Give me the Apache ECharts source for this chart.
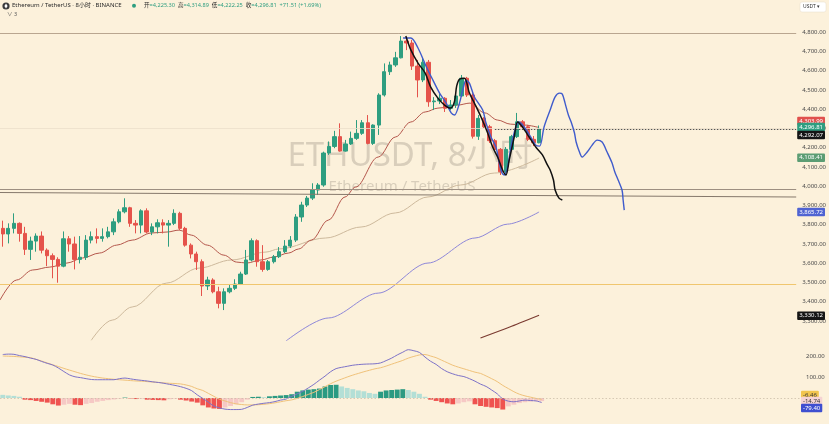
<!DOCTYPE html>
<html><head><meta charset="utf-8">
<script src="https://cdn.jsdelivr.net/npm/echarts@6/dist/echarts.min.js"></script>
<style>html,body{margin:0;padding:0;background:#fcf1db;}#c{width:829px;height:424px;}</style>
</head><body><div id="c"></div>
<script>
// ---------- DATA ----------
const opens  = [3781,3752,3781,3807,3755,3672,3715,3741,3668,3639,3620,3585,3727,3700,3620,3631,3720,3738,3729,3738,3763,3815,3867,3888,3807,3798,3872,3762,3789,3810,3798,3807,3859,3781,3694,3648,3608,3482,3513,3452,3392,3452,3470,3492,3544,3617,3717,3608,3568,3608,3634,3660,3689,3720,3840,3902,3938,3980,4006,4172,4206,4257,4182,4219,4248,4274,4329,4222,4317,4473,4594,4629,4666,4753,4743,4623,4551,4643,4438,4442,4456,4404,4421,4468,4560,4473,4259,4352,4308,4236,4191,4075,4191,4257,4334,4308,4243,4225.30];
const highs  = [3821,3807,3859,3812,3789,3738,3755,3765,3677,3651,3631,3765,3741,3738,3741,3746,3765,3781,3781,3789,3833,3880,3937,3893,3824,3880,3885,3807,3828,3828,3824,3880,3867,3789,3703,3660,3620,3530,3522,3478,3470,3487,3517,3556,3669,3729,3724,3694,3617,3643,3684,3720,3741,3855,3919,3949,4015,4016,4179,4232,4287,4326,4240,4283,4343,4343,4369,4321,4482,4637,4646,4697,4779,4774,4759,4655,4665,4655,4462,4478,4462,4447,4478,4577,4567,4482,4369,4358,4318,4245,4198,4203,4266,4380,4343,4318,4260,4314.89];
const lows   = [3686,3703,3755,3712,3643,3617,3660,3651,3585,3522,3499,3579,3660,3568,3599,3617,3703,3703,3712,3729,3746,3807,3859,3789,3755,3755,3755,3746,3755,3755,3686,3798,3772,3686,3625,3565,3430,3461,3444,3366,3357,3444,3461,3487,3539,3610,3582,3556,3561,3599,3627,3653,3679,3710,3815,3892,3928,3954,3997,4162,4197,4179,4179,4214,4240,4266,4217,4214,4266,4465,4577,4619,4663,4706,4603,4461,4540,4412,4395,4426,4385,4395,4406,4463,4463,4247,4240,4302,4224,4177,4058,4068,4188,4250,4302,4234,4208,4222.25];
const closes = [3752,3781,3807,3755,3672,3715,3741,3668,3639,3620,3585,3727,3700,3620,3631,3720,3738,3729,3738,3763,3815,3867,3888,3807,3798,3872,3762,3789,3810,3798,3807,3859,3781,3694,3648,3608,3482,3513,3452,3392,3452,3470,3492,3544,3617,3717,3608,3568,3608,3634,3660,3689,3720,3840,3902,3938,3980,4006,4172,4206,4257,4182,4219,4248,4274,4329,4222,4317,4473,4594,4629,4666,4753,4743,4623,4551,4643,4438,4442,4456,4404,4421,4468,4560,4473,4259,4352,4308,4236,4191,4075,4191,4257,4334,4308,4243,4225.30,4296.81];

// moving averages: [bar position, price]
const maRed    = [[-0.5,3409],[2.5,3513],[5.4,3565],[8.5,3580],[11.6,3601],[14.4,3627],[17.5,3653],[20.6,3694],[23.4,3720],[26.9,3757],[29.7,3762],[31.9,3772],[34.1,3746],[37,3694],[40,3642],[42.3,3606],[44.1,3601],[46.7,3617],[49,3632],[51.7,3653],[53.5,3674],[55.8,3720],[58.9,3824],[61.9,3944],[63.8,3995],[67.9,4151],[71,4255],[73.8,4333],[76.4,4385],[78.7,4405],[82.3,4421],[84.5,4431],[87.2,4380],[89.5,4343],[91.8,4322],[94.4,4317],[97,4304]];
const maTan    = [[16,3200],[19.8,3305],[23.4,3373],[29.6,3497],[35.5,3575],[41.4,3617],[47.6,3658],[49.9,3674],[58.4,3731],[64.8,3788],[71,3861],[76.9,3944],[82.8,4006],[88.9,4068],[97,4146]];
const maPurple = [[51.2,3196],[58.9,3316],[67.9,3445],[76.9,3601],[85.4,3731],[91.3,3803],[97,3866]];
const maDark   = [[86.4,3212],[91.7,3269],[97,3330]];

// hand-drawn projection paths
const blackPath = [[72.9,4779],[73.8,4707],[75.1,4639],[76.4,4587],[77.4,4514],[78.7,4457],[79.9,4421],[81,4405],[81.7,4440],[82.1,4520],[82.6,4555],[83.5,4560],[84.4,4483],[85.3,4431],[86.5,4359],[87.7,4276],[88.6,4203],[89.5,4151],[90.4,4084],[91,4058],[91.6,4136],[92.5,4255],[93.1,4333],[94,4307],[95.2,4255],[96.4,4203],[97.6,4162],[98.5,4110],[99,4084],[99.6,4032],[99.9,3980],[100.6,3938],[101.2,3928]];
const bluePath  = [[72.4,4769],[73.8,4769],[75.1,4717],[76.6,4620],[77.8,4550],[79,4483],[80.2,4431],[81.1,4380],[81.7,4369],[82.6,4431],[83.2,4499],[83.8,4550],[84.4,4535],[85.3,4463],[86.8,4395],[87.4,4328],[88.3,4255],[89.2,4203],[89.8,4120],[90.3,4068],[90.7,4058],[91.3,4099],[91.9,4203],[92.8,4307],[93.4,4333],[94.3,4307],[95.5,4255],[96.4,4213],[97.1,4208],[97.9,4307],[99,4395],[99.9,4463],[100.7,4483],[101.2,4478],[101.7,4431],[102.3,4369],[102.8,4333],[103.4,4276],[103.7,4229],[104.3,4177],[104.8,4151],[105.7,4177],[106.6,4213],[107.5,4239],[108.4,4229],[109.3,4177],[110.2,4120],[110.7,4073],[111.3,4032],[112,3980],[112.2,3928],[112.4,3876]];

// horizontal levels / trend line
const levelPrices = [4795, 3983.5, 3492, 4300];
const trendLine   = [[-0.5,3967],[143.5,3944]];
const priceLineFrom = 89;

// MACD pane
const macdHist = [15,12,10,6,-8,-10,-14,-18,-22,-30,-36,-32,-28,-32,-34,-28,-24,-18,-14,-10,-7,-3,2,-2,-5,-3,-8,-9,-10,-11,-6,-3,-8,-12,-17,-22,-35,-45,-50,-52,-45,-38,-30,-20,-8,5,6,4,8,10,12,14,18,30,36,40,42,45,55,62,63,55,48,42,36,32,24,20,30,36,38,40,42,38,30,20,6,-8,-14,-20,-26,-30,-26,-20,-16,-30,-38,-42,-45,-48,-55,-40,-32,-24,-20,-17,-15,-14.74];
const macdLine = [207,209,208,202,197,190,184,174,165,157,143,126,110,101,97,92,88,87,87,87,87,92,95,91,87,84,81,77,74,70,65,60,54,46,35,15,-2,-20,-38,-47,-53,-55,-55,-54,-45,-34,-29,-25,-22,-17,-10,-5,8,20,32,48,65,85,104,125,140,146,151,156,159,161,162,163,167,178,190,205,218,230,225,217,195,175,160,140,125,115,107,102,92,80,66,55,38,20,-5,-15,-18,-14,-10,-12,-14,-21.2];
const signalLine = [200,199,198,196,194,192,184,176,167,158,150,141,133,125,117,110,104,99,95,92,89,87,85,83,81,80,78,76,74,72,70,69,67,62,55,44,36,22,8,-6,-14,-22,-28,-31,-33,-33,-32,-30,-27,-23,-18,-13,-9,-2,7,17,27,40,54,68,80,90,100,109,117,125,132,139,144,152,161,170,179,190,198,205,207,200,192,180,168,156,147,139,131,123,117,105,92,78,60,45,30,18,10,4,-2,-6.46];

// price-scale tags
const mainTags = ['4,303.99','4,296.81','4,292.07','4,108.41','3,865.72','3,330.12'];
const macdTags = ['-6.46','-14.74','-79.40'];
const mainTicksRange = [3300, 4800];
const macdTicks = [100, 200];

// ---------- CHART ----------
const N = 144;
const categories = Array.from({length:N}, (_, i) => String(i));
const FONT = '"Noto Sans", "Noto Sans CJK SC", sans-serif';
const GREEN = '#2e9e80', RED = '#e5534b';
const fmt = v => Number(v).toLocaleString('en-US', {minimumFractionDigits:2, maximumFractionDigits:2});
const num = s => Number(s.replace(/,/g,''));

const candleData = opens.map((o, i) => [o, closes[i], lows[i], highs[i]]);
const histData = macdHist.map((v, i) => {
  const p = i > 0 ? macdHist[i-1] : undefined;
  let c;
  if (v >= 0) c = (p !== undefined && v > p) ? '#2b9a82' : '#b3dfd6';
  else c = (p !== undefined && v < p) ? '#ef5350' : '#f6c9c5';
  return {value: v, itemStyle: {color: c}};
});

const mainTagColors = ['#e0504c', GREEN, '#151515', '#5c9d74', '#4f63d2', '#151515'];
const mainTagOffsets = [-6.5, -2, 5, -7.5, 0, 0.5];
const macdTagBg = ['#f2c54e', '#f5d3d3', '#3f4fd0'];
const macdTagFg = ['#333', '#333', '#fff'];
const macdTagOffsets = [-4.4, 0, -6.7];

function tag(v, text, bg, fg, off) {
  return {yAxis: v, lineStyle: {color: 'rgba(0,0,0,0)', width: 0.1},
    label: {show: true, position: 'end', formatter: text, color: fg, backgroundColor: bg, opacity: 1,
      padding: [1.5, 2, 1, 2], fontSize: 6, fontFamily: FONT, borderRadius: 1, distance: 1, offset: [0, off]}};
}

const levelColors = ['#b9a690', '#9d8f81', '#f0c66e', '#ebdfca'];

const option = {
  animation: false,
  backgroundColor: '#fcf1db',
  textStyle: {fontFamily: FONT},
  grid: [
    {left: 0, right: 29, top: 12.73, height: 327.6},
    {left: 0, right: 29, top: 335, height: 84}
  ],
  xAxis: [
    {type: 'category', gridIndex: 0, data: categories, show: false},
    {type: 'value', gridIndex: 0, min: -0.5, max: N - 0.5, show: false},
    {type: 'category', gridIndex: 1, data: categories, show: false}
  ],
  yAxis: [
    {type: 'value', gridIndex: 0, position: 'right', min: 3200, max: 4900, interval: 100,
      splitLine: {show: false}, axisLine: {show: false}, axisTick: {show: false},
      axisLabel: {fontSize: 6, color: '#4a4a4a', margin: 6, fontFamily: FONT,
        formatter: v => (v >= mainTicksRange[0] && v <= mainTicksRange[1]) ? fmt(v) : ''}},
    {type: 'value', gridIndex: 1, position: 'right', min: -100, max: 300, interval: 100,
      splitLine: {show: false}, axisLine: {show: false}, axisTick: {show: false},
      axisLabel: {fontSize: 6, color: '#4a4a4a', margin: 6, fontFamily: FONT,
        formatter: v => macdTicks.includes(v) ? fmt(v) : ''}}
  ],
  series: [
    {type: 'line', xAxisIndex: 1, yAxisIndex: 0, data: [], silent: true,
      markLine: {silent: true, symbol: ['none', 'none'], label: {show: false}, animation: false,
        data: [
          ...levelPrices.map((p, i) => ({yAxis: p, lineStyle: {color: levelColors[i], width: i === 3 ? 0.8 : 1, type: 'solid'}})),
          [{coord: trendLine[0], lineStyle: {color: '#86796c', width: 1.1, type: 'solid'}}, {coord: trendLine[1]}],
          [{coord: [priceLineFrom, closes[closes.length-1]], lineStyle: {color: '#555', width: 1, type: [1.5, 1.5]}}, {coord: [N - 0.5, closes[closes.length-1]]}]
        ]}},
    {type: 'line', xAxisIndex: 1, yAxisIndex: 0, data: maTan, showSymbol: false, smooth: 0.35, smoothMonotone: 'x',
      lineStyle: {color: '#cdb99c', width: 1}, z: 2},
    {type: 'line', xAxisIndex: 1, yAxisIndex: 0, data: maPurple, showSymbol: false, smooth: 0.3, smoothMonotone: 'x',
      lineStyle: {color: '#8e87d8', width: 1}, z: 2},
    {type: 'line', xAxisIndex: 1, yAxisIndex: 0, data: maDark, showSymbol: false, smooth: 0.3,
      lineStyle: {color: '#7a3a30', width: 1.1}, z: 2},
    {type: 'line', xAxisIndex: 1, yAxisIndex: 0, data: maRed, showSymbol: false, smooth: 0.35, smoothMonotone: 'x',
      lineStyle: {color: '#b4574c', width: 1}, z: 2},
    {type: 'candlestick', xAxisIndex: 0, yAxisIndex: 0, data: candleData, barWidth: '70%', z: 3,
      itemStyle: {color: GREEN, color0: RED, borderColor: GREEN, borderColor0: RED, borderWidth: 1}},
    {type: 'line', xAxisIndex: 1, yAxisIndex: 0, data: bluePath, showSymbol: false, smooth: 0.3,
      lineStyle: {color: '#3f5bcc', width: 1.4}, z: 5},
    {type: 'line', xAxisIndex: 1, yAxisIndex: 0, data: blackPath, showSymbol: false, smooth: 0.3,
      lineStyle: {color: '#111111', width: 1.5}, z: 6},
    {type: 'line', xAxisIndex: 1, yAxisIndex: 0, data: [[0, 4000]], showSymbol: false, lineStyle: {width: 0}, silent: true, z: 10,
      markLine: {silent: true, symbol: ['none', 'none'], animation: false, z: 10,
        data: mainTags.map((t, i) => tag(num(t), t, mainTagColors[i], '#fff', mainTagOffsets[i]))}},
    // MACD pane
    {type: 'bar', xAxisIndex: 2, yAxisIndex: 1, data: histData, barWidth: '88%',
      markLine: {silent: true, symbol: ['none', 'none'], label: {show: false}, animation: false,
        data: [{yAxis: 0, lineStyle: {color: '#cbbfa9', width: 0.8, type: [1.5, 2]}}]}},
    {type: 'line', xAxisIndex: 2, yAxisIndex: 1, data: signalLine, showSymbol: false, smooth: 0.3,
      lineStyle: {color: '#f0c27a', width: 1}},
    {type: 'line', xAxisIndex: 2, yAxisIndex: 1, data: macdLine, showSymbol: false, smooth: 0.3,
      lineStyle: {color: '#7d72c8', width: 1},
      markLine: {silent: true, symbol: ['none', 'none'], animation: false, z: 10,
        data: macdTags.map((t, i) => tag(num(t), t, macdTagBg[i], macdTagFg[i], macdTagOffsets[i]))}}
  ],
  graphic: []
};

// header texts
const last = closes.length - 1;
const chg = closes[last] - opens[last];
const pct = chg / opens[last] * 100;
const gtxt = (x, y, text, size, color, extra) => Object.assign({type: 'text', x: x, y: y, silent: true,
  style: {text: text, fontSize: size, fontFamily: FONT, fill: color}}, extra || {});
option.graphic = [
  {type: 'circle', shape: {cx: 6, cy: 6, r: 3.6}, style: {fill: '#3a3a3c'}, silent: true},
  {type: 'polygon', shape: {points: [[6, 3.4], [7.6, 6.1], [6, 8.6], [4.4, 6.1]]}, style: {fill: '#fff'}, silent: true},
  gtxt(12, 2.3, 'Ethereum / TetherUS · 8小时 · BINANCE', 6, '#2a2a2a'),
  {type: 'circle', shape: {cx: 134, cy: 5.8, r: 2}, style: {fill: '#2e9e80'}, silent: true},
  {type: 'text', x: 144, y: 2.4, silent: true, style: {
    text: '{k|开}{v|=' + fmt(opens[last]) + '}  {k|高}{v|=' + fmt(highs[last]) + '}  {k|低}{v|=' + fmt(lows[last]) + '}  {k|收}{v|=' + fmt(closes[last]) + '}  {v|+' + fmt(chg) + ' (+' + pct.toFixed(2) + '%)}',
    fontSize: 5.6, fontFamily: FONT,
    rich: {k: {fill: '#2a2a2a', fontSize: 5.6, fontFamily: FONT}, v: {fill: '#2e9e80', fontSize: 5.6, fontFamily: FONT}}}},
  gtxt(7, 11.5, '∨ 3', 5.5, '#555'),
  {type: 'rect', shape: {x: 800, y: 2, width: 26, height: 10, r: 2}, style: {fill: '#ffffff', stroke: '#e6dccb', lineWidth: 0.5}, silent: true},
  gtxt(803, 4.2, 'USDT ▾', 5, '#333'),
  // watermark
  {type: 'text', x: 410, y: 157, silent: true, z: -1, style: {text: 'ETHUSDT, 8小时', fontSize: 33, fontFamily: FONT,
    fill: 'rgba(115,108,98,0.26)', align: 'center', verticalAlign: 'middle'}},
  {type: 'text', x: 402, y: 187, silent: true, z: -1, style: {text: 'Ethereum / TetherUS', fontSize: 15, fontFamily: FONT,
    fill: 'rgba(115,108,98,0.26)', align: 'center', verticalAlign: 'middle'}}
];

const chart = echarts.init(document.getElementById('c'), null, {renderer: 'canvas', width: 829, height: 424});
chart.setOption(option);
</script>
</body></html>
